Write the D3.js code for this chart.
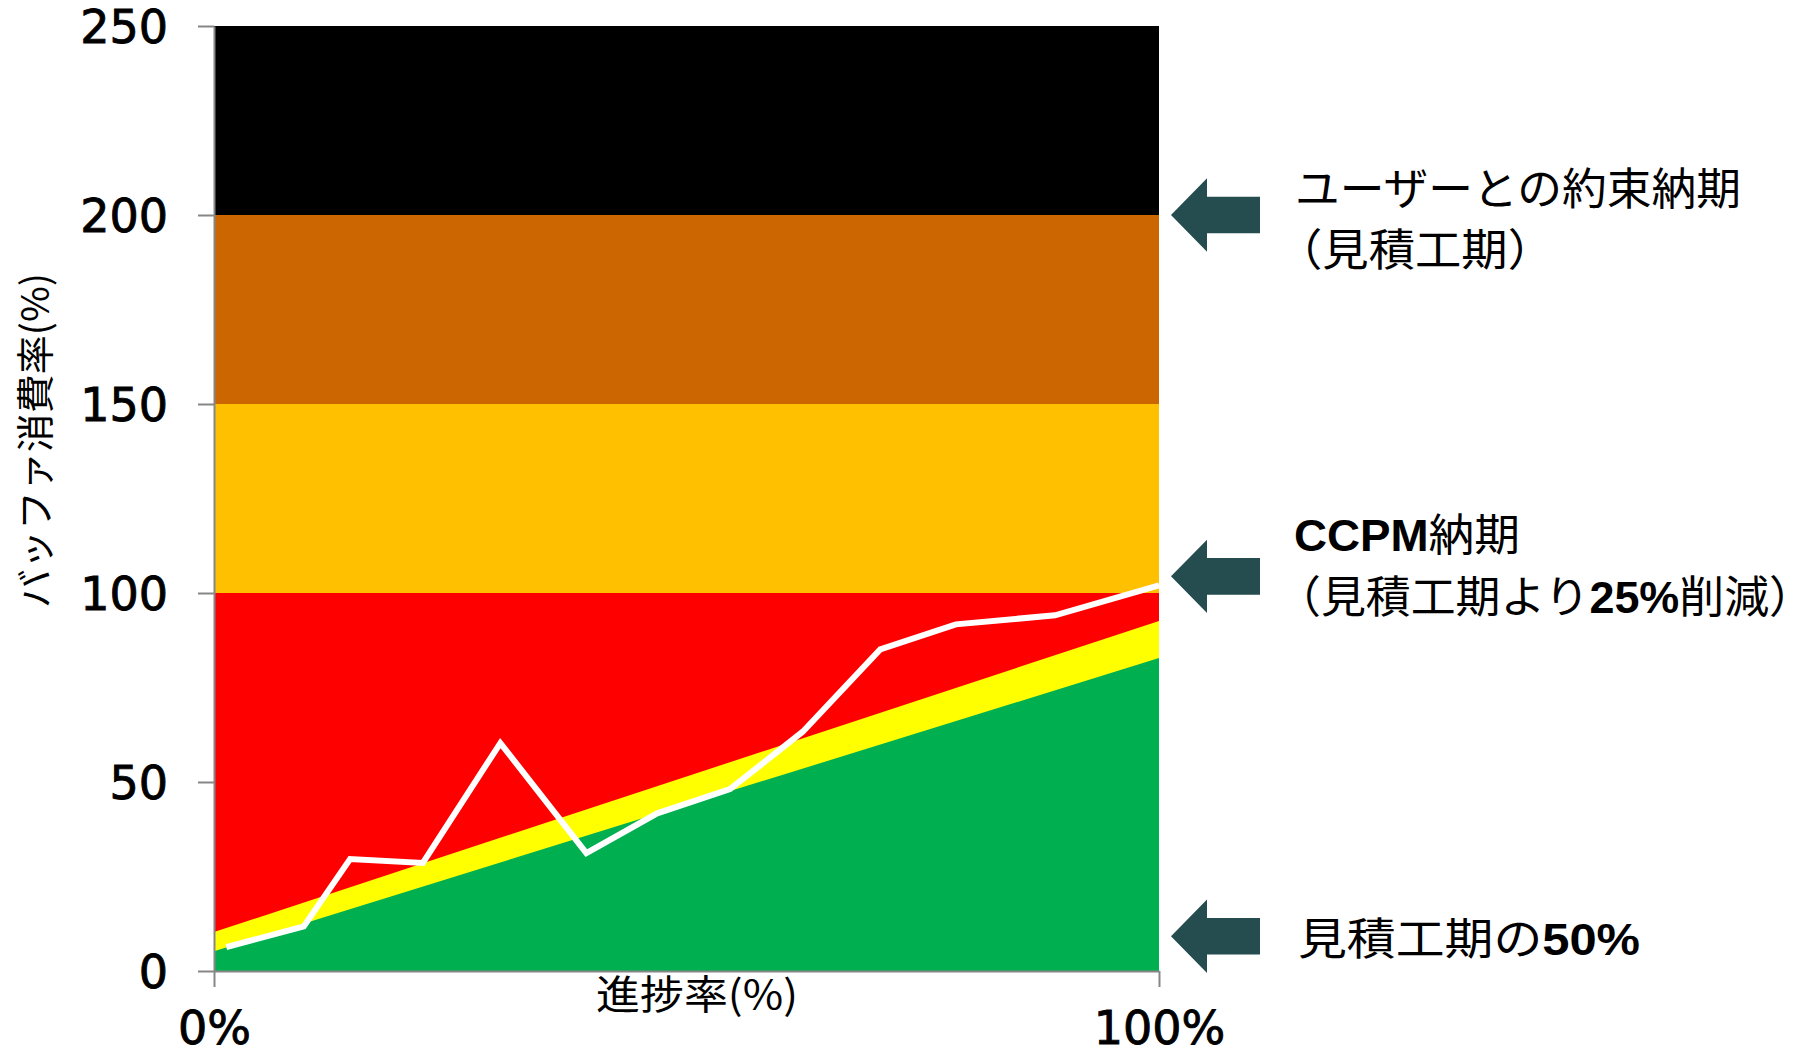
<!DOCTYPE html>
<meta charset="utf-8">
<style>
body { margin: 0; background: #fff; }
.axis path, .axis line { stroke: #868686; stroke-width: 2px; }
.axis text { font-family: "DejaVu Sans", sans-serif; font-size: 46px; fill: #000; stroke: #000; stroke-width: 0.9px; }
.title { font-family: "Noto Sans CJK JP", sans-serif; font-size: 40px; fill: #000; }
.note { font-family: "Liberation Sans", "Noto Sans CJK JP", sans-serif; font-size: 44px; fill: #000; }
.note .b { font-weight: bold; }
.line { fill: none; stroke: #fff; stroke-width: 6px; }
</style>
<svg width="1816" height="1057"></svg>
<script src="https://d3js.org/d3.v7.min.js"></script>
<script>

// buffer zones (buffer consumption %)
var bandLimits = [0, 100, 150, 200, 250];
// diagonal zones over progress
var zoneX = [0, 100];
var greenTop = [5.2, 82.8];
var yellowTop = [10.3, 92.6];
// actual buffer consumption
var progress = [1.3, 9.5, 14.4, 22.1, 30.3, 39.4, 46.9, 54.6, 62.3, 70.5, 78.5, 89.0, 100];
var bufferUse = [6.3, 11.8, 29.6, 28.6, 60.3, 31.2, 41.7, 48.1, 63.3, 85.1, 91.7, 94.1, 102.0];
// axes
var yTicks = [0, 50, 100, 150, 200, 250];
var xTicks = [0, 100];
var xTickLabels = ["0%", "100%"];
// arrows on the right
var arrowLevels = [200, 104.4, 9.2];

var svg = d3.select("svg"),
    margin = {top: 26, right: 657, bottom: 86, left: 214},
    width = +svg.attr("width") - margin.left - margin.right,
    height = +svg.attr("height") - margin.top - margin.bottom;

var x = d3.scaleLinear().domain([0, 100]).range([0, width]),
    y = d3.scaleLinear().domain([0, 250]).range([height, 0]);

var bandColors = ["#FF0000", "#FFC000", "#CC6600", "#000000"];

var g = svg.append("g")
    .attr("transform", "translate(" + margin.left + "," + margin.top + ")");

// horizontal bands
g.selectAll(".band")
  .data(d3.range(bandLimits.length - 1))
  .enter().append("rect")
    .attr("class", "band")
    .attr("x", 0)
    .attr("width", width)
    .attr("y", function(i) { return y(bandLimits[i + 1]); })
    .attr("height", function(i) { return y(bandLimits[i]) - y(bandLimits[i + 1]); })
    .attr("fill", function(i) { return bandColors[i]; });

var zoneArea = function(top) {
  return d3.area()
    .x(function(d, i) { return x(zoneX[i]); })
    .y0(y(0))
    .y1(function(d, i) { return y(top[i]); });
};

g.append("path")
    .datum(yellowTop)
    .attr("fill", "#FFFF00")
    .attr("d", zoneArea(yellowTop));

g.append("path")
    .datum(greenTop)
    .attr("fill", "#00B050")
    .attr("d", zoneArea(greenTop));

var valueline = d3.line()
    .x(function(d, i) { return x(progress[i]); })
    .y(function(d) { return y(d); });

g.append("path")
    .datum(bufferUse)
    .attr("class", "line")
    .attr("d", valueline);

// axes
var yAxis = d3.axisLeft(y).tickValues(yTicks).tickSize(16).tickSizeOuter(0).tickPadding(30);
g.append("g")
    .attr("class", "axis axis--y")
    .call(yAxis)
  .selectAll("text")
    .attr("dy", "0.36em");

var xAxis = d3.axisBottom(x).tickValues(xTicks).tickSize(16).tickSizeOuter(0).tickPadding(24)
    .tickFormat(function(d, i) { return xTickLabels[i]; });
g.append("g")
    .attr("class", "axis axis--x")
    .attr("transform", "translate(0," + height + ")")
    .call(xAxis);

// axis titles
svg.append("text")
    .attr("class", "title")
    .attr("x", 596)
    .attr("y", 1009)
    .attr("textLength", 202)
    .attr("lengthAdjust", "spacingAndGlyphs")
    .text("進捗率(%)");

svg.append("text")
    .attr("class", "title")
    .attr("transform", "translate(49,608) rotate(-90)")
    .attr("textLength", 335)
    .attr("lengthAdjust", "spacingAndGlyphs")
    .style("font-size", "38px")
    .text("バッファ消費率(%)");

// arrows
var ax = margin.left + width + 12;
svg.selectAll(".arrow")
  .data(arrowLevels)
  .enter().append("path")
    .attr("class", "arrow")
    .attr("fill", "#254C4F")
    .attr("d", function(v) {
      var cy = margin.top + y(v);
      return "M" + ax + "," + cy +
        "L" + (ax + 36) + "," + (cy - 36.7) +
        "L" + (ax + 36) + "," + (cy - 18.3) +
        "L" + (ax + 89) + "," + (cy - 18.3) +
        "L" + (ax + 89) + "," + (cy + 18.3) +
        "L" + (ax + 36) + "," + (cy + 18.3) +
        "L" + (ax + 36) + "," + (cy + 36.7) + "Z";
    });

// notes
function note(xp, yp, len, parts) {
  var t = svg.append("text")
      .attr("class", "note")
      .attr("x", xp)
      .attr("y", yp)
      .attr("textLength", len)
      .attr("lengthAdjust", "spacingAndGlyphs");
  parts.forEach(function(p) {
    t.append("tspan").attr("class", p[1] ? "b" : null).text(p[0]);
  });
}

note(1295, 205, 446, [["ユーザーとの約束納期", false]]);
note(1276, 266, 278, [["（見積工期）", false]]);
note(1294, 551, 226, [["CCPM", true], ["納期", false]]);
note(1276, 613, 538, [["（見積工期より", false], ["25%", true], ["削減）", false]]);
note(1298, 955, 342, [["見積工期の", false], ["50%", true]]);

</script>
